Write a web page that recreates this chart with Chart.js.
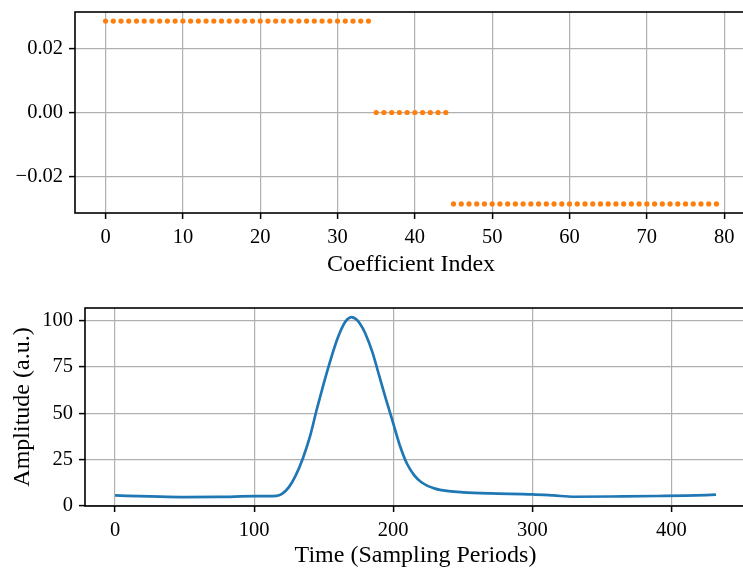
<!DOCTYPE html>
<html>
<head>
<meta charset="utf-8">
<script src="https://cdn.jsdelivr.net/npm/chart.js@4/dist/chart.umd.min.js"></script>
<style>
  html, body { margin: 0; padding: 0; background: #fff; overflow: hidden; width: 743px; height: 570px; }
  canvas { position: absolute; left: 0; }
  #coefChart { top: 0; }
  #pulseChart { top: 290px; }
</style>
</head>
<body>
<canvas id="coefChart" width="760" height="290"></canvas>
<canvas id="pulseChart" width="760" height="280"></canvas>
<script>
// Data: filter coefficients (top)
const coefIndex = [
  0, 1, 2, 3, 4, 5, 6, 7, 8, 9, 10, 11, 12, 13, 14, 15, 16, 17, 18, 19,
  20, 21, 22, 23, 24, 25, 26, 27, 28, 29, 30, 31, 32, 33, 34, 35, 36, 37, 38, 39,
  40, 41, 42, 43, 44, 45, 46, 47, 48, 49, 50, 51, 52, 53, 54, 55, 56, 57, 58, 59,
  60, 61, 62, 63, 64, 65, 66, 67, 68, 69, 70, 71, 72, 73, 74, 75, 76, 77, 78, 79
];
const coefValue = [
  0.0286, 0.0286, 0.0286, 0.0286, 0.0286, 0.0286, 0.0286, 0.0286, 0.0286, 0.0286,
  0.0286, 0.0286, 0.0286, 0.0286, 0.0286, 0.0286, 0.0286, 0.0286, 0.0286, 0.0286,
  0.0286, 0.0286, 0.0286, 0.0286, 0.0286, 0.0286, 0.0286, 0.0286, 0.0286, 0.0286,
  0.0286, 0.0286, 0.0286, 0.0286, 0.0286,
  0, 0, 0, 0, 0, 0, 0, 0, 0, 0,
  -0.0286, -0.0286, -0.0286, -0.0286, -0.0286, -0.0286, -0.0286, -0.0286, -0.0286, -0.0286,
  -0.0286, -0.0286, -0.0286, -0.0286, -0.0286, -0.0286, -0.0286, -0.0286, -0.0286, -0.0286,
  -0.0286, -0.0286, -0.0286, -0.0286, -0.0286, -0.0286, -0.0286, -0.0286, -0.0286, -0.0286,
  -0.0286, -0.0286, -0.0286, -0.0286, -0.0286
];
const coefXTicks = [0, 10, 20, 30, 40, 50, 60, 70, 80];
const coefYTicks = [-0.02, 0, 0.02];

// Data: pulse amplitude (bottom)
const sampleTime = [
  0, 25, 50, 75, 100, 116, 120, 125, 130, 135, 140, 145, 150, 155, 160, 164,
  167, 170, 173, 176, 180, 185, 190, 195, 200, 205, 210, 215, 220, 230, 240, 250, 270,
  300, 315, 330, 365, 390, 410, 432
];
const amplitude = [
  5.5, 5.0, 4.6, 4.7, 5.1, 5.3, 6.4, 10, 16.5, 25.5, 37, 52, 66, 79, 90.5, 97.5,
  100.8, 102, 101, 98.5, 93, 83, 70, 57, 44.5, 32, 22.5, 16.5, 12.8, 9.2, 7.8, 7.2, 6.6,
  6.1, 5.5, 4.8, 5.0, 5.2, 5.4, 5.9
];
const pulseXTicks = [0, 100, 200, 300, 400];
const pulseYTicks = [0, 25, 50, 75, 100];

Chart.defaults.font.family = "'Liberation Serif', serif";
Chart.defaults.font.size = 20.5;
Chart.defaults.color = '#000';

const gridStyle = {
  color: '#b0b0b0',
  lineWidth: 1.2,
  tickColor: '#000',
  tickWidth: 1.5,
  tickLength: 6
};
const titleFont = { family: "'Liberation Serif', serif", size: 24 };

// kotak sumbu (spines)
const frame = {
  id: 'frame',
  afterDatasetsDraw(chart) {
    const { ctx, chartArea: a } = chart;
    ctx.save();
    ctx.strokeStyle = '#000';
    ctx.lineWidth = 1.6;
    ctx.strokeRect(a.left, a.top, a.right - a.left, a.bottom - a.top);
    ctx.restore();
  }
};

function fixedTicks(values) {
  return scale => { scale.ticks = values.map(v => ({ value: v })); };
}

// Top chart
new Chart(document.getElementById('coefChart'), {
  type: 'scatter',
  data: {
    datasets: [{
      data: coefIndex.map((x, i) => ({ x: x, y: coefValue[i] })),
      backgroundColor: '#ff7f0e',
      borderWidth: 0,
      pointRadius: 2.6
    }]
  },
  options: {
    responsive: false,
    animation: false,
    layout: { padding: { left: 0, top: 12, right: 13, bottom: 0 } },
    plugins: { legend: { display: false }, tooltip: { enabled: false } },
    scales: {
      x: {
        type: 'linear',
        min: -3.95, max: 82.95,
        afterBuildTicks: fixedTicks(coefXTicks),
        afterFit: s => { s.height = 77; s.paddingLeft = 0; s.paddingRight = 0; },
        grid: gridStyle,
        border: { display: false },
        ticks: { padding: 6, maxRotation: 0, includeBounds: false },
        title: { display: true, text: 'Coefficient Index', font: titleFont, padding: { top: 0, bottom: 11 } }
      },
      y: {
        min: -0.03143, max: 0.03143,
        afterBuildTicks: fixedTicks(coefYTicks),
        afterFit: s => { s.width = 75; s.paddingTop = 0; s.paddingBottom = 0; },
        grid: gridStyle,
        border: { display: false },
        ticks: {
          padding: 6,
          includeBounds: false,
          callback: v => (v < 0 ? '\u2212' : '') + Math.abs(v).toFixed(2)
        }
      }
    }
  },
  plugins: [frame]
});

// Bottom chart
new Chart(document.getElementById('pulseChart'), {
  type: 'scatter',
  data: {
    datasets: [{
      data: sampleTime.map((t, i) => ({ x: t, y: amplitude[i] })),
      showLine: true,
      borderColor: '#1f77b4',
      borderWidth: 2.7,
      pointRadius: 0,
      cubicInterpolationMode: 'monotone'
    }]
  },
  options: {
    responsive: false,
    animation: false,
    layout: { padding: { left: 0, top: 18, right: 14, bottom: 0 } },
    plugins: { legend: { display: false }, tooltip: { enabled: false } },
    scales: {
      x: {
        type: 'linear',
        min: -21.6, max: 453.6,
        afterBuildTicks: fixedTicks(pulseXTicks),
        afterFit: s => { s.height = 64; s.paddingLeft = 0; s.paddingRight = 0; },
        grid: gridStyle,
        border: { display: false },
        ticks: { padding: 6, maxRotation: 0, includeBounds: false },
        title: { display: true, text: 'Time (Sampling Periods)', font: titleFont, padding: { top: 0, bottom: 0 } }
      },
      y: {
        min: -0.2, max: 106.9,
        afterBuildTicks: fixedTicks(pulseYTicks),
        afterFit: s => { s.width = 85; s.paddingTop = 0; s.paddingBottom = 0; },
        grid: gridStyle,
        border: { display: false },
        ticks: { padding: 6, includeBounds: false },
        title: { display: true, text: 'Amplitude (a.u.)', font: titleFont, padding: { top: 8, bottom: 0 } }
      }
    }
  },
  plugins: [frame]
});
</script>
</body>
</html>
